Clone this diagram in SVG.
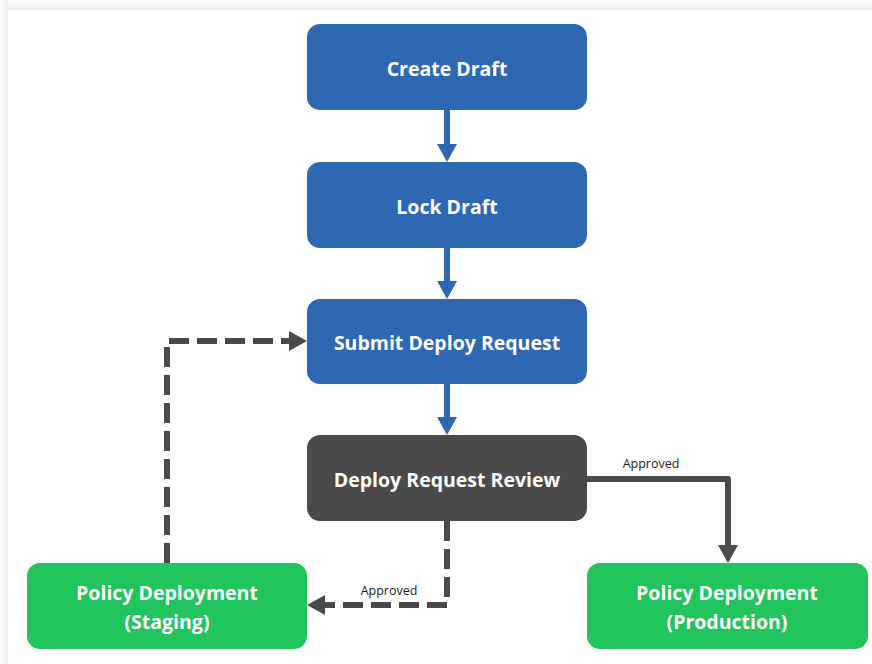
<svg xmlns="http://www.w3.org/2000/svg" width="872" height="664" viewBox="0 0 872 664">
  <defs>
    <linearGradient id="topEdge" x1="0" y1="0" x2="0" y2="1">
      <stop offset="0" stop-color="#ffffff"/>
      <stop offset="1" stop-color="#ececec"/>
    </linearGradient>
    <linearGradient id="leftEdge" x1="0" y1="0" x2="1" y2="0">
      <stop offset="0" stop-color="#ffffff"/>
      <stop offset="1" stop-color="#ececec"/>
    </linearGradient>
    <!-- arrowheads point along the path; the line stops at the base -->
    <marker id="headBlue" viewBox="0 0 18 20" refX="0" refY="10" markerWidth="18" markerHeight="20" markerUnits="userSpaceOnUse" orient="auto">
      <path d="M0,0 L18,10 L0,20 Z" fill="#2e68b2"/>
    </marker>
    <marker id="headGray" viewBox="0 0 18 20" refX="0" refY="10" markerWidth="18" markerHeight="20" markerUnits="userSpaceOnUse" orient="auto">
      <path d="M0,0 L18,10 L0,20 Z" fill="#4a4a4a"/>
    </marker>
  </defs>
  <style>
    .node-blue { fill: #2e68b2; }
    .node-dark { fill: #4a4a4a; }
    .node-green { fill: #22c45e; }
    .label { font-family: "Open Sans", "Noto Sans", sans-serif; font-weight: 700; font-size: 19.5px; fill: #ffffff; text-anchor: middle; }
    .edge-label { font-family: "Open Sans", "Noto Sans", sans-serif; font-size: 12.5px; fill: #222222; text-anchor: middle; }
    .flow { fill: none; stroke: #2e68b2; stroke-width: 6; }
    .link { fill: none; stroke: #4a4a4a; stroke-width: 6; stroke-linejoin: round; }
    .dashed { stroke-dasharray: 20 8; }
  </style>

  <!-- page background with a soft frame -->
  <rect x="0" y="0" width="872" height="664" fill="#f4f4f4"/>
  <rect x="0" y="0" width="872" height="10" fill="url(#topEdge)"/>
  <rect x="0" y="0" width="8" height="664" fill="url(#leftEdge)"/>
  <rect x="8" y="10" width="864" height="654" fill="#ffffff"/>

  <!-- connectors -->
  <g id="connectors">
    <path class="flow" d="M447,110 L447,144" marker-end="url(#headBlue)"/>
    <path class="flow" d="M447,248 L447,281" marker-end="url(#headBlue)"/>
    <path class="flow" d="M447,384 L447,417" marker-end="url(#headBlue)"/>
    <path class="link" d="M587,479 L728,479 L728,545" marker-end="url(#headGray)"/>
    <path class="link dashed" d="M447,521 L447,605 L325,605" marker-end="url(#headGray)"/>
    <path class="link dashed" d="M167,563 L167,341 L289,341" marker-end="url(#headGray)"/>
    <text class="edge-label" x="651" y="468">Approved</text>
    <text class="edge-label" x="389" y="595">Approved</text>
  </g>

  <g id="create-draft">
    <rect class="node-blue" x="307" y="24" width="280" height="86" rx="13"/>
    <text class="label" x="447" y="76">Create Draft</text>
  </g>
  <g id="lock-draft">
    <rect class="node-blue" x="307" y="162" width="280" height="86" rx="13"/>
    <text class="label" x="447" y="214">Lock Draft</text>
  </g>
  <g id="submit-deploy-request">
    <rect class="node-blue" x="307" y="299" width="280" height="85" rx="13"/>
    <text class="label" x="447" y="350">Submit Deploy Request</text>
  </g>
  <g id="deploy-request-review">
    <rect class="node-dark" x="307" y="435" width="280" height="86" rx="13"/>
    <text class="label" x="447" y="487">Deploy Request Review</text>
  </g>
  <g id="policy-deployment-staging">
    <rect class="node-green" x="27" y="563" width="280" height="86" rx="13"/>
    <text class="label" x="167" y="600">Policy Deployment</text>
    <text class="label" x="167" y="629">(Staging)</text>
  </g>
  <g id="policy-deployment-production">
    <rect class="node-green" x="587" y="563" width="281" height="86" rx="13"/>
    <text class="label" x="727" y="600">Policy Deployment</text>
    <text class="label" x="727" y="629">(Production)</text>
  </g>
</svg>
